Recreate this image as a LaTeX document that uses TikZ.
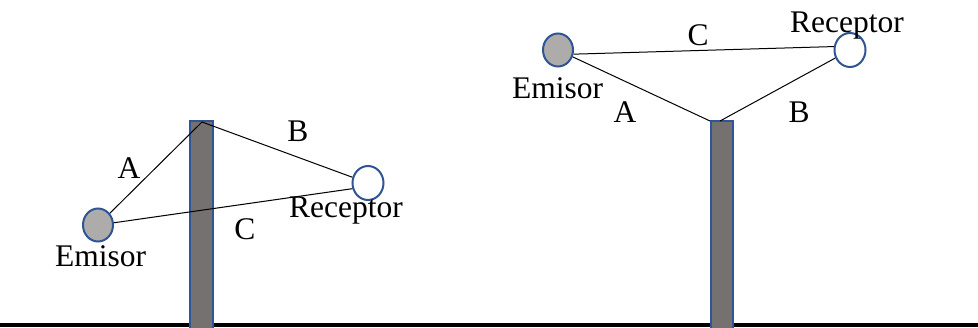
\documentclass[tikz,border=0pt]{standalone}
\usepackage{fontspec}
\setmainfont{Liberation Serif}
\usetikzlibrary{shapes.geometric}
\definecolor{poleGray}{HTML}{767171}
\definecolor{emGray}{HTML}{AEABAB}
\definecolor{edgeBlue}{HTML}{2F5597}
\tikzset{
  pole/.style={fill=poleGray, draw=edgeBlue, line width=1.5pt},
  antenna/.style={ellipse, draw=edgeBlue, line width=2pt, inner sep=0pt},
  emisor/.style={antenna, fill=emGray, minimum width=30pt, minimum height=33pt},
  receptor/.style={antenna, fill=white, minimum width=31pt, minimum height=34pt},
  link/.style={draw=black, line width=1pt},
  lbl/.style={inner sep=0pt, font=\fontsize{31.5}{36}\selectfont},
}
\begin{document}
\begin{tikzpicture}[x=1pt, y=-1pt]
  \useasboundingbox (0,0) rectangle (978,327);
  % ground
  \draw[line width=3.5pt] (0,325) -- (978,325);

  % ---- left scene: pole between emitter and receiver ----
  \draw[pole] (190,121) rectangle (213,329);
  \coordinate (top1) at (202,122);
  \node[emisor] (em1) at (98,225) {};
  \node[receptor] (rx1) at (368,183) {};
  \draw[link] (em1) -- (top1);
  \draw[link] (top1) -- (rx1);
  \draw[link] (em1.8) -- (rx1.200);
  \node[lbl, anchor=base] (la1) at (129,178) {A};
  \node[lbl, anchor=base] (lb1) at (298,141) {B};
  \node[lbl, anchor=base] (lc1) at (245,239) {C};
  \node[lbl, anchor=base west] (le1) at (55,266) {Emisor};
  \node[lbl, anchor=base west] (lr1) at (289,217) {Receptor};

  % ---- right scene: pole below the direct path ----
  \draw[pole] (711,121) rectangle (733,329);
  \coordinate (top2a) at (710,121);
  \coordinate (top2b) at (720,121);
  \node[emisor] (em2) at (558,50) {};
  \node[receptor] (rx2) at (850,50) {};
  \draw[link] (em2) -- (top2a);
  \draw[link] (top2b) -- (rx2);
  \draw[link] (em2.-15) -- (rx2.168);
  \node[lbl, anchor=base] (lc2) at (698,45) {C};
  \node[lbl, anchor=base] (la2) at (625,122) {A};
  \node[lbl, anchor=base] (lb2) at (799,122) {B};
  \node[lbl, anchor=base west] (le2) at (512,98) {Emisor};
  \node[lbl, anchor=base west] (lr2) at (790,32) {Receptor};
\end{tikzpicture}
\end{document}
